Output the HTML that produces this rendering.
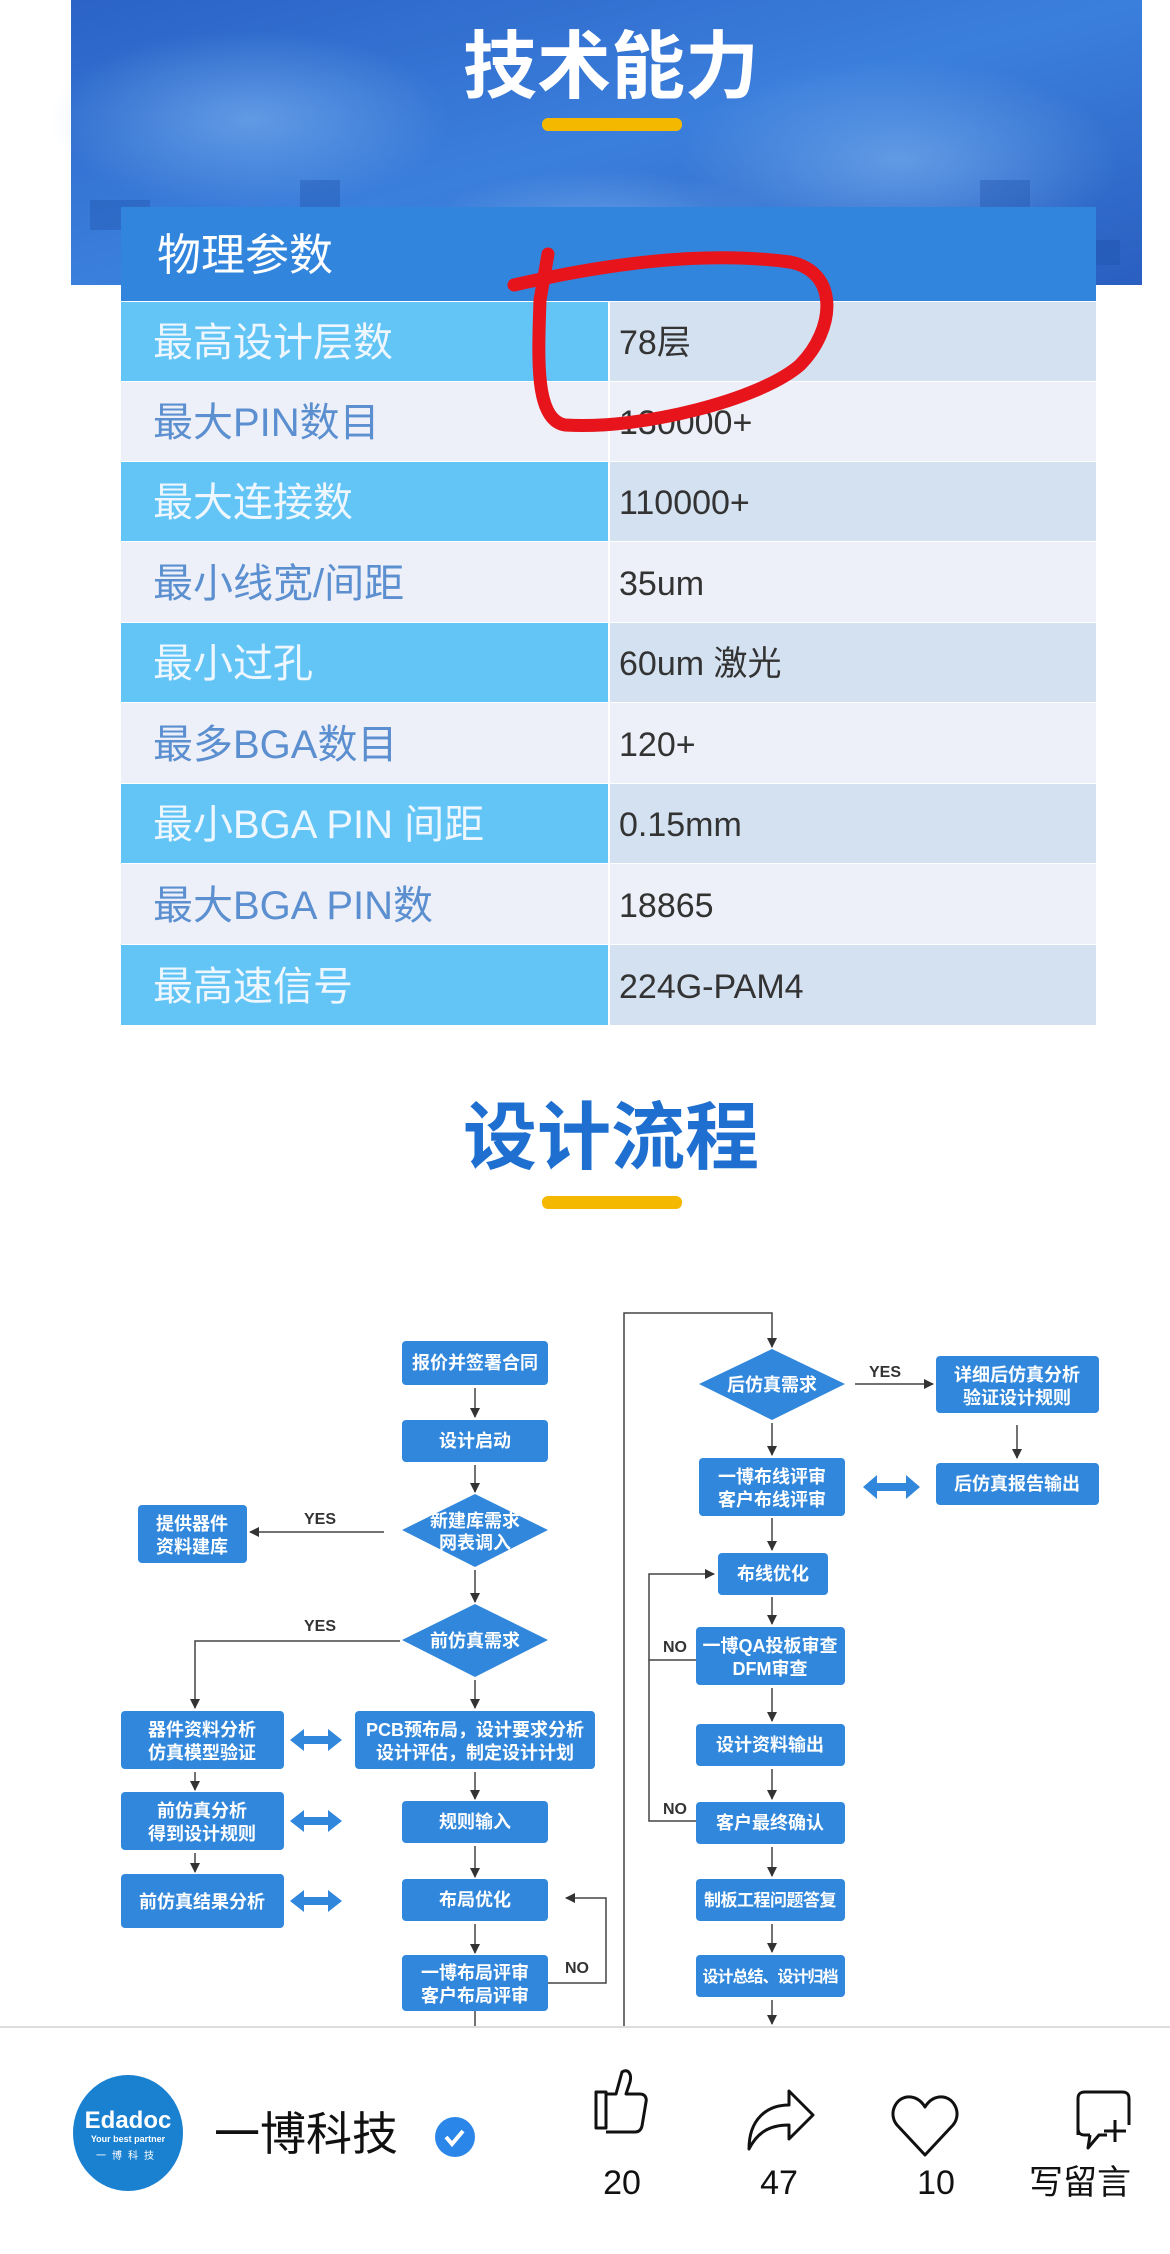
<!DOCTYPE html>
<html><head><meta charset="utf-8"><style>
html,body{margin:0;padding:0;background:#fff;}
svg{display:block;}
text{font-family:"Liberation Sans","Noto Sans CJK SC",sans-serif;}
</style></head><body>
<svg width="1170" height="2254" viewBox="0 0 1170 2254" xmlns="http://www.w3.org/2000/svg">
<defs>
<linearGradient id="bg" x1="0" y1="0" x2="1" y2="1">
<stop offset="0" stop-color="#2b63c6"/><stop offset="0.5" stop-color="#3b7fdc"/><stop offset="1" stop-color="#2a5fc0"/>
</linearGradient>
<radialGradient id="gl" cx="0.5" cy="0.5" r="0.5"><stop offset="0" stop-color="#7fb4f0" stop-opacity="0.6"/><stop offset="1" stop-color="#7fb4f0" stop-opacity="0"/></radialGradient>
<marker id="ah" markerWidth="10" markerHeight="10" refX="9" refY="5" orient="auto" markerUnits="userSpaceOnUse"><path d="M0,0 L10,5 L0,10 z" fill="#333"/></marker>
</defs>
<!-- banner -->
<rect x="71" y="0" width="1071" height="285" fill="url(#bg)"/>
<ellipse cx="250" cy="120" rx="200" ry="90" fill="url(#gl)"/>
<ellipse cx="900" cy="160" rx="220" ry="100" fill="url(#gl)"/>
<ellipse cx="600" cy="230" rx="180" ry="60" fill="url(#gl)"/>
<g fill="#1d4fa8" opacity="0.35">
<rect x="90" y="200" width="60" height="30"/><rect x="180" y="240" width="90" height="20"/><rect x="300" y="180" width="40" height="40"/>
<rect x="850" y="220" width="70" height="30"/><rect x="980" y="180" width="50" height="50"/><rect x="1060" y="240" width="60" height="25"/>
</g>
<text x="611" y="92" font-size="74" font-weight="bold" fill="#fff" text-anchor="middle">技术能力</text>
<rect x="542" y="118" width="140" height="13" rx="6" fill="#f5b800"/>
<!-- table -->
<rect x="121" y="207" width="975" height="94" fill="#3285dd"/>
<text x="157" y="270" font-size="44" fill="#fff">物理参数</text>
<g font-size="40">
<rect x="121" y="302" width="487" height="79" fill="#63c5f5"/><rect x="610" y="302" width="486" height="79" fill="#d4e1f1"/>
<text x="153" y="356" fill="#eef7ff">最高设计层数</text><text x="619" y="354" font-size="34" fill="#333">78层</text>
<rect x="121" y="382" width="487" height="79" fill="#edf0f8"/><rect x="610" y="382" width="486" height="79" fill="#edf0f8"/>
<text x="153" y="436" fill="#5b8fd0">最大PIN数目</text><text x="619" y="434" font-size="34" fill="#333">130000+</text>
<rect x="121" y="462" width="487" height="79" fill="#63c5f5"/><rect x="610" y="462" width="486" height="79" fill="#d4e1f1"/>
<text x="153" y="516" fill="#eef7ff">最大连接数</text><text x="619" y="514" font-size="34" fill="#333">110000+</text>
<rect x="121" y="542" width="487" height="80" fill="#edf0f8"/><rect x="610" y="542" width="486" height="80" fill="#edf0f8"/>
<text x="153" y="597" fill="#5b8fd0">最小线宽/间距</text><text x="619" y="595" font-size="34" fill="#333">35um</text>
<rect x="121" y="623" width="487" height="79" fill="#63c5f5"/><rect x="610" y="623" width="486" height="79" fill="#d4e1f1"/>
<text x="153" y="677" fill="#eef7ff">最小过孔</text><text x="619" y="675" font-size="34" fill="#333">60um 激光</text>
<rect x="121" y="703" width="487" height="80" fill="#edf0f8"/><rect x="610" y="703" width="486" height="80" fill="#edf0f8"/>
<text x="153" y="758" fill="#5b8fd0">最多BGA数目</text><text x="619" y="756" font-size="34" fill="#333">120+</text>
<rect x="121" y="784" width="487" height="79" fill="#63c5f5"/><rect x="610" y="784" width="486" height="79" fill="#d4e1f1"/>
<text x="153" y="838" fill="#eef7ff">最小BGA PIN 间距</text><text x="619" y="836" font-size="34" fill="#333">0.15mm</text>
<rect x="121" y="864" width="487" height="80" fill="#edf0f8"/><rect x="610" y="864" width="486" height="80" fill="#edf0f8"/>
<text x="153" y="919" fill="#5b8fd0">最大BGA PIN数</text><text x="619" y="917" font-size="34" fill="#333">18865</text>
<rect x="121" y="945" width="487" height="80" fill="#63c5f5"/><rect x="610" y="945" width="486" height="80" fill="#d4e1f1"/>
<text x="153" y="1000" fill="#eef7ff">最高速信号</text><text x="619" y="998" font-size="34" fill="#333">224G-PAM4</text>
</g>
<!-- red annotation -->
<path d="M514,285 C600,265 700,250 790,262 C840,272 835,330 800,365 C760,400 640,430 565,425 C535,420 538,360 540,300 L548,254" fill="none" stroke="#e8141b" stroke-width="13" stroke-linecap="round" stroke-linejoin="round"/>
<!-- section 2 title -->
<text x="611" y="1163" font-size="74" font-weight="bold" fill="#1f6fd0" text-anchor="middle">设计流程</text>
<rect x="542" y="1196" width="140" height="13" rx="6" fill="#f5b800"/>
<!-- flowchart -->
<g fill="#3187db">
<rect x="402" y="1341" width="146" height="44" rx="4"/>
<rect x="402" y="1420" width="146" height="42" rx="4"/>
<polygon points="475,1494 548,1530 475,1567 402,1530"/>
<rect x="138" y="1505" width="109" height="58" rx="4"/>
<polygon points="475,1604 548,1640 475,1677 402,1640"/>
<rect x="121" y="1711" width="163" height="58" rx="4"/>
<rect x="355" y="1711" width="240" height="58" rx="4"/>
<rect x="121" y="1792" width="163" height="58" rx="4"/>
<rect x="402" y="1801" width="146" height="42" rx="4"/>
<rect x="121" y="1874" width="163" height="54" rx="4"/>
<rect x="402" y="1879" width="146" height="42" rx="4"/>
<rect x="402" y="1955" width="146" height="56" rx="4"/>
<polygon points="772,1349 845,1384 772,1420 699,1384"/>
<rect x="936" y="1356" width="163" height="57" rx="4"/>
<rect x="936" y="1463" width="163" height="42" rx="4"/>
<rect x="699" y="1458" width="146" height="58" rx="4"/>
<rect x="718" y="1553" width="110" height="42" rx="4"/>
<rect x="696" y="1627" width="149" height="58" rx="4"/>
<rect x="696" y="1724" width="149" height="42" rx="4"/>
<rect x="696" y="1802" width="149" height="42" rx="4"/>
<rect x="696" y="1879" width="149" height="42" rx="4"/>
<rect x="696" y="1955" width="149" height="42" rx="4"/>
</g>
<g font-size="18" font-weight="bold" fill="#fff" text-anchor="middle">
<text x="475" y="1369">报价并签署合同</text>
<text x="475" y="1447">设计启动</text>
<text x="475" y="1527">新建库需求</text><text x="475" y="1549">网表调入</text>
<text x="192" y="1530">提供器件</text><text x="192" y="1553">资料建库</text>
<text x="475" y="1647">前仿真需求</text>
<text x="202" y="1736">器件资料分析</text><text x="202" y="1759">仿真模型验证</text>
<text x="475" y="1736">PCB预布局，设计要求分析</text><text x="475" y="1759">设计评估，制定设计计划</text>
<text x="202" y="1817">前仿真分析</text><text x="202" y="1840">得到设计规则</text>
<text x="475" y="1828">规则输入</text>
<text x="202" y="1908">前仿真结果分析</text>
<text x="475" y="1906">布局优化</text>
<text x="475" y="1979">一博布局评审</text><text x="475" y="2002">客户布局评审</text>
<text x="772" y="1391">后仿真需求</text>
<text x="1017" y="1381">详细后仿真分析</text><text x="1017" y="1404">验证设计规则</text>
<text x="1017" y="1490">后仿真报告输出</text>
<text x="772" y="1483">一博布线评审</text><text x="772" y="1506">客户布线评审</text>
<text x="773" y="1580">布线优化</text>
<text x="770" y="1652">一博QA投板审查</text><text x="770" y="1675">DFM审查</text>
<text x="770" y="1751">设计资料输出</text>
<text x="770" y="1829">客户最终确认</text>
<text x="770" y="1906" font-size="17" letter-spacing="-0.5">制板工程问题答复</text>
<text x="770" y="1982" font-size="16" letter-spacing="-1">设计总结、设计归档</text>
</g>
<g font-size="16" font-weight="bold" fill="#333" text-anchor="middle">
<text x="320" y="1524">YES</text><text x="320" y="1631">YES</text>
<text x="577" y="1973">NO</text><text x="885" y="1377">YES</text>
<text x="675" y="1652">NO</text><text x="675" y="1814">NO</text>
</g>
<g stroke="#444" stroke-width="1.5" fill="none" marker-end="url(#ah)">
<line x1="475" y1="1388" x2="475" y2="1417"/>
<line x1="475" y1="1465" x2="475" y2="1492"/>
<line x1="475" y1="1570" x2="475" y2="1602"/>
<line x1="475" y1="1680" x2="475" y2="1708"/>
<line x1="475" y1="1772" x2="475" y2="1799"/>
<line x1="475" y1="1846" x2="475" y2="1877"/>
<line x1="475" y1="1924" x2="475" y2="1953"/>
<line x1="384" y1="1532" x2="250" y2="1532"/>
<polyline points="400,1641 195,1641 195,1708"/>
<line x1="195" y1="1772" x2="195" y2="1790"/>
<line x1="195" y1="1853" x2="195" y2="1872"/>
<polyline points="548,1983 606,1983 606,1898 566,1898"/>
<polyline points="624,2026 624,1313 772,1313 772,1347"/>
<line x1="855" y1="1384" x2="933" y2="1384"/>
<line x1="1017" y1="1425" x2="1017" y2="1458"/>
<line x1="772" y1="1423" x2="772" y2="1455"/>
<line x1="772" y1="1518" x2="772" y2="1550"/>
<line x1="772" y1="1597" x2="772" y2="1624"/>
<line x1="772" y1="1688" x2="772" y2="1721"/>
<line x1="772" y1="1769" x2="772" y2="1799"/>
<line x1="772" y1="1847" x2="772" y2="1876"/>
<line x1="772" y1="1924" x2="772" y2="1952"/>
<line x1="772" y1="2000" x2="772" y2="2024"/>
<polyline points="696,1660 649,1660 649,1574 714,1574"/>
</g>
<g stroke="#444" stroke-width="1.5" fill="none">
<line x1="475" y1="2011" x2="475" y2="2026"/>
<polyline points="696,1821 649,1821 649,1660"/>
</g>
<!-- double arrows -->
<g fill="#3187db">
<path d="M290,1740 l14,-11 v7 h24 v-7 l14,11 l-14,11 v-7 h-24 v7 z"/>
<path d="M290,1821 l14,-11 v7 h24 v-7 l14,11 l-14,11 v-7 h-24 v7 z"/>
<path d="M290,1901 l14,-11 v7 h24 v-7 l14,11 l-14,11 v-7 h-24 v7 z"/>
<path d="M863,1487 l14,-12 v8 h29 v-8 l14,12 l-14,12 v-8 h-29 v8 z"/>
</g>
<!-- bottom bar -->
<rect x="0" y="2027" width="1170" height="227" fill="#fff"/>
<line x1="0" y1="2027" x2="1170" y2="2027" stroke="#ddd" stroke-width="2"/>
<ellipse cx="128" cy="2133" rx="55" ry="58" fill="#1a80d0"/>
<text x="128" y="2128" font-size="24" font-weight="bold" fill="#fff" text-anchor="middle" font-family="Liberation Serif, serif">Edadoc</text>
<text x="128" y="2142" font-size="9" font-weight="bold" fill="#fff" text-anchor="middle">Your best partner</text>
<text x="128" y="2159" font-size="10" fill="#fff" text-anchor="middle" letter-spacing="6">一博科技</text>
<text x="214" y="2150" font-size="46" fill="#111">一博科技</text>
<circle cx="455" cy="2137" r="20" fill="#2a86e8"/>
<path d="M446,2137 l6,7 l11,-13" stroke="#fff" stroke-width="4" fill="none"/>
<g stroke="#111" stroke-width="3" fill="none" stroke-linejoin="round">
<path d="M596,2092 h10 v36 h-10 z M606,2094 l10,0 l6,-22 c6,-4 10,2 8,10 l-4,12 h14 c5,0 7,4 6,8 l-4,24 c-1,4 -3,6 -7,6 h-29"/>
<path d="M749,2149 c0,-30 18,-44 40,-44 v-14 l24,24 l-24,24 v-14 c-20,0 -32,8 -40,24 z"/>
<path d="M925,2155 l-28,-30 c-10,-12 0,-30 14,-28 c7,1 11,5 14,10 c3,-5 7,-9 14,-10 c14,-2 24,16 14,28 z"/>
<path d="M1078,2135 v-36 c0,-5 2,-7 7,-7 h37 c5,0 7,2 7,7 v26 M1090,2135 h-5 c-5,0 -7,-2 -7,-7 M1090,2135 l-2,13 l11,-13 h8 M1115,2120 v22 M1104,2131 h22"/>
</g>
<g font-size="34" fill="#111" text-anchor="middle">
<text x="622" y="2194">20</text><text x="779" y="2194">47</text><text x="936" y="2194">10</text><text x="1080" y="2194">写留言</text>
</g>
</svg>
</body></html>
